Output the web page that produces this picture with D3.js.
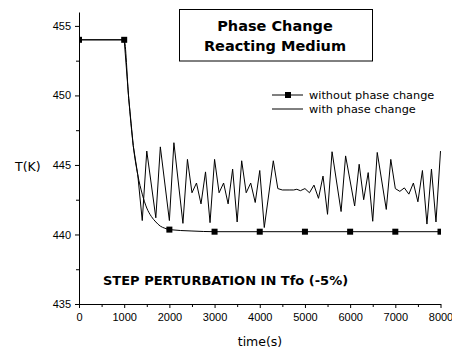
<!DOCTYPE html>
<html>
<head>
<meta charset="utf-8">
<script src="https://cdn.jsdelivr.net/npm/d3@7/dist/d3.min.js"></script>
<style>
  body { margin: 0; background: #fff; }
  svg { display: block; }
</style>
</head>
<body>
<svg id="chart" width="452" height="351"></svg>
<script>
// ---- data ----
const xTicks = [0, 1000, 2000, 3000, 4000, 5000, 6000, 7000, 8000];
const yTicks = [435, 440, 445, 450, 455];

const timeNoPC = [0, 1000, 1100, 1200, 1300, 1400, 1500, 1600, 1700, 1800, 1900, 2000, 2500, 3000, 4000, 5000, 6000, 7000, 8000];
const tempNoPC = [454, 454, 449.8, 446.4, 444.3, 442.9, 441.9, 441.3, 440.9, 440.6, 440.45, 440.35, 440.25, 440.2, 440.2, 440.2, 440.2, 440.2, 440.2];

const markerTimes = [0, 1000, 2000, 3000, 4000, 5000, 6000, 7000, 8000];
const markerTemps = [454, 454, 440.35, 440.2, 440.2, 440.2, 440.2, 440.2, 440.2];

const timePC = [0, 1000, 1100, 1200, 1300, 1400, 1500, 1700, 1800, 2000, 2100, 2300, 2400,
  2500, 2600, 2700, 2800, 2900, 3000, 3100, 3200, 3300, 3400, 3500, 3600, 3700, 3800, 3900, 4000, 4100,
  4300, 4400, 4500, 4650, 4750, 4820, 4900, 5000, 5100, 5200, 5300, 5400, 5500, 5600, 5800, 5900,
  6100, 6200, 6300, 6400, 6500, 6600, 6800, 6900, 7000, 7100, 7200, 7300, 7400, 7500, 7600, 7700, 7800, 7900, 8000];
const tempPC = [454, 454, 449.8, 446.4, 444.3, 441.0, 446.0, 441.2, 446.3, 441.0, 446.6, 440.8, 445.4,
  443.0, 443.7, 442.2, 444.5, 440.85, 445.4, 443.0, 443.7, 442.2, 444.7, 440.9, 445.3, 443.0, 443.7, 442.3, 444.6, 440.5,
  445.3, 443.3, 443.2, 443.2, 443.2, 443.25, 443.15, 443.3, 443.0, 443.55, 442.6, 444.2, 441.45, 445.95, 441.65, 445.65,
  442.05, 445.05, 442.5, 444.45, 440.95, 445.9, 441.8, 445.4, 443.3, 443.1, 443.35, 442.9, 443.7, 442.35, 444.6, 440.75, 444.7, 440.9, 446.0];

const titleLines = ["Phase Change", "Reacting Medium"];
const legendLabels = ["without phase change", "with phase change"];

// ---- layout ----
const svg = d3.select("#chart");
const pLeft = 79, pRight = 440.5, pTop = 12, pBottom = 304;

const x = d3.scaleLinear().domain([0, 8000]).range([pLeft, pRight]);
const y = d3.scaleLinear().domain([435, 456]).range([pBottom, pTop]);

svg.append("defs").append("clipPath").attr("id", "plotclip")
  .append("rect").attr("x", pLeft).attr("y", pTop).attr("width", pRight - pLeft + 0.5).attr("height", pBottom - pTop);

// axes
const tickFont = "Liberation Sans, Arial, sans-serif";
svg.append("g").attr("transform", `translate(${pLeft},0)`)
  .call(d3.axisLeft(y).tickValues(yTicks).tickSize(4).tickSizeOuter(0).tickPadding(4).tickFormat(d3.format("d")));
const yMinor = svg.append("g").attr("transform", `translate(${pLeft},0)`)
  .call(d3.axisLeft(y).tickValues([437.5, 442.5, 447.5, 452.5]).tickSize(3).tickSizeOuter(0).tickFormat(""));
yMinor.select(".domain").remove();

svg.append("g").attr("transform", `translate(0,${pBottom})`)
  .call(d3.axisBottom(x).tickValues(xTicks).tickSize(4).tickSizeOuter(0).tickPadding(5).tickFormat(d3.format("d")));
const xMinor = svg.append("g").attr("transform", `translate(0,${pBottom})`)
  .call(d3.axisBottom(x).tickValues([500, 1500, 2500, 3500, 4500, 5500, 6500, 7500]).tickSize(3).tickSizeOuter(0).tickFormat(""));
xMinor.select(".domain").remove();

svg.selectAll(".tick text").attr("font-family", tickFont).attr("font-size", 11).attr("fill", "#000");
svg.selectAll(".domain, .tick line").attr("stroke", "#000").attr("stroke-width", 1);

// lines
const plot = svg.append("g").attr("clip-path", "url(#plotclip)");

const noPC = timeNoPC.map((t, i) => [t, tempNoPC[i]]);
const pc = timePC.map((t, i) => [t, tempPC[i]]);

plot.append("path")
  .attr("d", d3.line().x(d => x(d[0])).y(d => y(d[1])).curve(d3.curveMonotoneX)(noPC))
  .attr("fill", "none").attr("stroke", "#000").attr("stroke-width", 1);

plot.append("path")
  .attr("d", d3.line().x(d => x(d[0])).y(d => y(d[1]))(pc))
  .attr("fill", "none").attr("stroke", "#000").attr("stroke-width", 1);

plot.selectAll("rect.mk").data(markerTimes.map((t, i) => [t, markerTemps[i]])).enter()
  .append("rect").attr("class", "mk")
  .attr("x", d => x(d[0]) - 3).attr("y", d => y(d[1]) - 3)
  .attr("width", 6).attr("height", 6).attr("fill", "#000");

// axis titles
const textFont = "DejaVu Sans, Verdana, sans-serif";
svg.append("text").attr("x", 15).attr("y", 171).attr("font-family", textFont).attr("font-size", 12.5)
  .text("T(K)");
svg.append("text").attr("x", 260).attr("y", 346).attr("text-anchor", "middle")
  .attr("font-family", textFont).attr("font-size", 12.5).text("time(s)");

// title box
svg.append("rect").attr("x", 179.5).attr("y", 9.5).attr("width", 193).attr("height", 51.5)
  .attr("fill", "#fff").attr("stroke", "#000").attr("stroke-width", 1);
svg.selectAll("text.title").data(titleLines).enter().append("text").attr("class", "title")
  .attr("x", 275).attr("y", (d, i) => 31 + i * 19.5).attr("text-anchor", "middle")
  .attr("font-family", textFont).attr("font-weight", "bold").attr("font-size", 14.5)
  .text(d => d);

// legend
const lg = svg.append("g");
legendLabels.forEach((lab, i) => {
  const ly = 95 + i * 14;
  lg.append("line").attr("x1", 272).attr("x2", 303).attr("y1", ly).attr("y2", ly)
    .attr("stroke", "#000").attr("stroke-width", 1);
  if (i === 0) lg.append("rect").attr("x", 285).attr("y", ly - 3).attr("width", 6).attr("height", 6).attr("fill", "#000");
  lg.append("text").attr("x", 309).attr("y", ly + 4).attr("font-family", textFont).attr("font-size", 11.3).text(lab);
});

// annotation
svg.append("text").attr("x", 103).attr("y", 285).attr("font-family", textFont).attr("font-weight", "bold")
  .attr("font-size", 13).text("STEP PERTURBATION IN Tfo (-5%)");
</script>
</body>
</html>
